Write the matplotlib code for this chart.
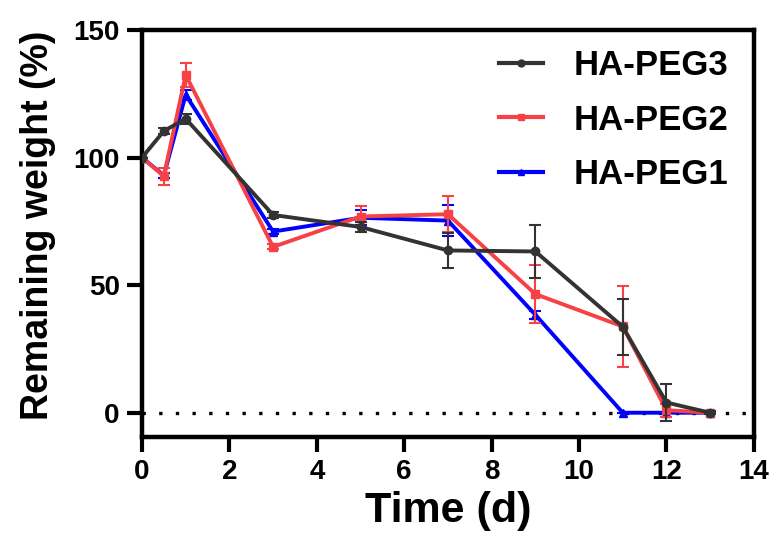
import matplotlib
matplotlib.use("Agg")
import matplotlib.pyplot as plt
from matplotlib.lines import Line2D

plt.rcParams['font.family'] = ['Liberation Sans', 'DejaVu Sans']
plt.rcParams['font.weight'] = 'bold'

days = [0, 0.5, 1, 3, 5, 7, 9, 11, 12, 13]

peg3 = [100, 110.4, 115.2, 77.5, 72.8, 63.6, 63.2, 33.7, 4.0, 0]
peg3_err = [0, 1.0, 2.0, 1.0, 2.0, 7.0, 10.5, 11.0, 7.4, 0.5]

peg2 = [100, 92.7, 132.4, 65.0, 76.9, 77.8, 46.5, 33.8, 1.0, 0]
peg2_err = [0, 3.3, 4.7, 1.0, 4.0, 7.0, 11.5, 16.0, 2.5, 0.5]

peg1 = [100, 93.0, 124.6, 71.0, 76.4, 75.3, 38.4, 0, 0, 0]
peg1_err = [0, 1.0, 2.0, 1.0, 3.0, 6.0, 1.5, 0, 0, 0]

labels = ['HA-PEG3', 'HA-PEG2', 'HA-PEG1']
colors = ['#333333', '#f64245', '#0000ff']
markers = ['o', 's', '^']

fig = plt.figure(figsize=(7.78, 5.5), dpi=100)
ax = fig.add_axes([0.1825, 0.2055, 0.7865, 0.74])

ax.axhline(0, color='black', linestyle=(0, (1, 4)), linewidth=2.4, zorder=1)

series = [(peg3, peg3_err), (peg2, peg2_err), (peg1, peg1_err)]
zs = [5, 4, 3]
for (vals, errs), lab, c, m, z in zip(series, labels, colors, markers, zs):
    ax.errorbar(days, vals, yerr=errs, color=c, marker=m, markersize=6,
                linewidth=2.8, capsize=4, elinewidth=1.5, capthick=1.5, zorder=z)

ax.set_xlim(0, 14)
ax.set_ylim(-9.5, 150)
ax.set_xticks(range(0, 15, 2))
ax.set_yticks([0, 50, 100, 150])

for s in ax.spines.values():
    s.set_linewidth(3.2)
ax.tick_params(axis='both', direction='out', length=11, width=3, labelsize=20, pad=5)
for lab in ax.get_xticklabels() + ax.get_yticklabels():
    lab.set_fontweight('bold')

ax.set_xlabel('Time (d)', fontsize=31, fontweight='bold', labelpad=4)
ax.set_ylabel('Remaining weight (%)', fontsize=27, fontweight='bold')
ax.yaxis.set_label_coords(-0.14, 0.52)

handles = [Line2D([], [], color=c, marker=m, markersize=5, linewidth=3)
           for c, m in zip(colors, markers)]
ax.legend(handles, labels, loc='upper right', frameon=False,
          prop={'weight': 'bold', 'size': 25},
          handlelength=1.25, labelspacing=0.62, borderaxespad=0.15, handletextpad=0.9,
          bbox_to_anchor=(0.99, 1.0))

fig.savefig('out.png', dpi=100)
